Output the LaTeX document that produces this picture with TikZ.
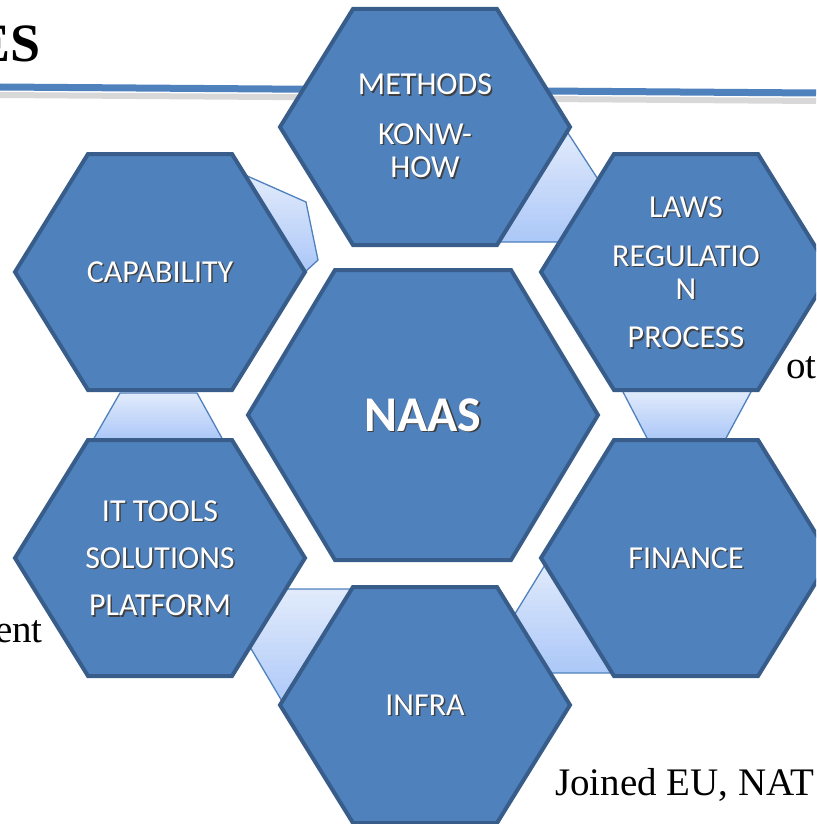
\documentclass[tikz,border=0pt]{standalone}
\usepackage{fontspec}
\setmainfont{Liberation Serif}[BoldFont={Liberation Serif Bold}]
\newfontfamily\calib{Carlito}[BoldFont={Carlito Bold}]
\usetikzlibrary{calc}

\definecolor{hexBlue}{RGB}{79,129,189}
\definecolor{hexEdge}{RGB}{56,93,138}
\definecolor{linkTop}{RGB}{226,235,251}
\definecolor{linkBot}{RGB}{172,200,248}

%white text with a dark drop shadow
\newcommand{\shad}[1]{\makebox[0pt][l]{\kern1.5pt\raisebox{-1.5pt}{\textcolor{black!75}{#1}}}#1}

\tikzset{
	hexcell/.style={fill=hexBlue, draw=hexEdge, line width=4pt, line join=miter},
	linkpiece/.style={draw=hexBlue, line width=1.3pt, path picture={
		\foreach \i in {0,...,19}{
			\pgfmathsetmacro\pa{\i/20}
			\pgfmathsetmacro\pb{(\i+1.4)/20}
			\pgfmathtruncatemacro\pc{\i*5+3}
			\fill[linkBot!\pc!linkTop] ($(path picture bounding box.north west)!\pa!(path picture bounding box.south west)$) rectangle ($(path picture bounding box.north east)!\pb!(path picture bounding box.south east)$);
		}}},
	celltext/.style={text=white, inner sep=0pt, anchor=base, font=\calib\fontsize{32}{38.5}\selectfont},
	slidetext/.style={inner sep=0pt, font=\fontsize{39}{39}\selectfont}
}

\begin{document}
\begin{tikzpicture}[x=1pt, y=-1pt]

	\useasboundingbox (0,0) rectangle (816,824);
	\clip (0,0) rectangle (816,824);

	%declare constants
	\def\hw{145}
	\def\ht{72}
	\def\hh{118}

	%slide behind the cluster
	\draw[black!30, line width=6pt, opacity=0.5] (0,95) -- (816,101);
	\draw[hexBlue, line width=7pt] (0,87) -- (816,93);
	\node[anchor=base east, inner sep=0pt, font=\bfseries\fontsize{54}{54}\selectfont] (tES) at (41,62) {ES};
	\node[slidetext, anchor=base west] (tOt) at (786,378) {ot};
	\node[slidetext, anchor=base east] (tEnt) at (43,642) {ent};
	\node[slidetext, anchor=base west] (tJoined) at (555,795) {Joined EU, NAT};

	%cell centres
	\coordinate (naas) at (423,415);
	\foreach \n/\cx/\cy in {meth/425/127, cap/160/272, laws/686/272, tools/160/558, fin/686/558, infra/425/705}{
		\coordinate (\n) at (\cx,\cy);
		\coordinate (\n-W) at ({\cx-\hw},\cy);
		\coordinate (\n-NW) at ({\cx-\ht},{\cy-\hh});
		\coordinate (\n-NE) at ({\cx+\ht},{\cy-\hh});
		\coordinate (\n-E) at ({\cx+\hw},\cy);
		\coordinate (\n-SE) at ({\cx+\ht},{\cy+\hh});
		\coordinate (\n-SW) at ({\cx-\ht},{\cy+\hh});
	}

	%link pieces, the cells cover their ends
	\draw[linkpiece] (245,175) -- (306,202) -- (318,260) -- (cap-E) -- cycle;
	\draw[linkpiece] (566,130) -- (605,190) -- (570,242) -- (497,242) -- cycle;
	\draw[linkpiece] (622,390) -- (752,390) -- (725,440) -- (648,440) -- cycle;
	\draw[linkpiece] (120,393) -- (197,393) -- (223,440) -- (93,440) -- cycle;
	\draw[linkpiece] (548,560) -- (505,630) -- (540,673) -- (612,673) -- cycle;
	\draw[linkpiece] (280,589) -- (355,589) -- (286,708) -- (240,630) -- cycle;

	%outer cells
	\foreach \n in {meth, cap, laws, tools, fin, infra}{
		\filldraw[hexcell] (\n-W) -- (\n-NW) -- (\n-NE) -- (\n-E) -- (\n-SE) -- (\n-SW) -- cycle;
	}

	%centre cell
	\filldraw[hexcell] ($(naas)+(-175,0)$) -- ($(naas)+(-88,-145)$) -- ($(naas)+(88,-145)$)
		-- ($(naas)+(175,0)$) -- ($(naas)+(88,145)$) -- ($(naas)+(-88,145)$) -- cycle;

	%cell labels, placed on the baseline of their first line
	\node[celltext, font=\calib\bfseries\fontsize{50}{50}\selectfont] (tNaas) at ($(naas)+(0,16)$) {\shad{NAAS}};
	\node[celltext] (tMeth) at (425,95) {\begin{tabular}[t]{@{}c@{}}\shad{METHODS}\\[17pt]\shad{KONW-}\\[1pt]\shad{HOW}\end{tabular}};
	\node[celltext] (tCap) at ($(cap)+(0,10)$) {\shad{CAPABILITY}};
	\node[celltext] (tLaws) at (686,217) {\begin{tabular}[t]{@{}c@{}}\shad{LAWS}\\[17pt]\shad{REGULATIO}\\[1pt]\shad{N}\\[16pt]\shad{PROCESS}\end{tabular}};
	\node[celltext] (tTools) at (160,521) {\begin{tabular}[t]{@{}c@{}}\shad{IT TOOLS}\\[15pt]\shad{SOLUTIONS}\\[15pt]\shad{PLATFORM}\end{tabular}};
	\node[celltext] (tFin) at ($(fin)+(0,10)$) {\shad{FINANCE}};
	\node[celltext] (tInfra) at ($(infra)+(0,10)$) {\shad{INFRA}};

\end{tikzpicture}
\end{document}
